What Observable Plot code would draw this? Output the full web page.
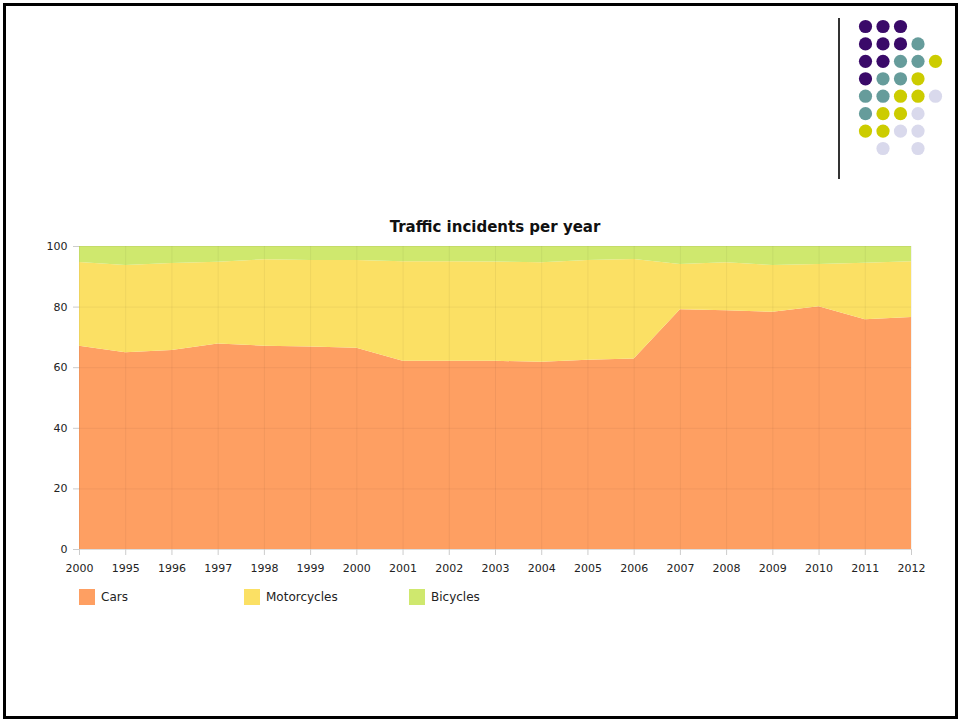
<!DOCTYPE html>
<html><head><meta charset="utf-8">
<script src="https://cdn.jsdelivr.net/npm/d3@7"></script>
<script src="https://cdn.jsdelivr.net/npm/@observablehq/plot@0.6"></script>
<style>
body{margin:0;background:#fff;font-family:"DejaVu Sans",Verdana,sans-serif;}
#page{position:relative;width:961px;height:721px;overflow:hidden;background:#fff;}
#frame{position:absolute;left:3px;top:3px;width:955px;height:716px;border:3px solid #000;box-sizing:border-box;}
#vline{position:absolute;left:838px;top:18px;width:2px;height:161px;background:#333;}
#title{position:absolute;left:0;width:990px;top:218px;text-align:center;font-weight:bold;font-size:15px;color:#111;}
#chart{position:absolute;left:0;top:236px;}
#dots{position:absolute;left:855px;top:16px;}
#legend{position:absolute;left:79px;top:589px;font-size:12px;color:#222;}
.item{position:absolute;top:0;white-space:nowrap;}
.sw{position:absolute;left:0;top:0;width:16px;height:16px;}
.lt{position:absolute;left:22px;top:1px;}
</style></head>
<body><div id="page"><div id="frame"></div><div id="vline"></div><div id="dots"></div>
<div id="title">Traffic incidents per year</div><div id="chart"></div><div id="legend"></div></div>
<script>
const labels = ["2000","1995","1996","1997","1998","1999","2000","2001","2002","2003","2004","2005","2006","2007","2008","2009","2010","2011","2012"];
const cars        = [67.1,64.9,65.7,67.8,67.1,66.8,66.4,62.1,62.1,62.1,61.8,62.5,62.9,79.1,78.8,78.3,80.1,75.8,76.6];
const motorcycles = [27.6,28.8,28.7,27.0,28.5,28.6,29.0,32.9,32.9,32.8,32.8,32.9,32.8,15.0,15.8,15.4,14.0,18.7,18.4];
const bicycles    = [5.3,6.3,5.6,5.2,4.4,4.6,4.6,5.0,5.0,5.1,5.4,4.6,4.3,5.9,5.4,6.3,5.9,5.5,5.0];
const seriesNames = ["Cars","Motorcycles","Bicycles"];
const seriesColors = ["#fe9f62","#fbe064","#cfe86e"];
const yTicks = [0,20,40,60,80,100];

// decoration dots (row strings, top to bottom; P=purple, T=teal, Y=yellow, L=lavender)
const dotRows = ["PPP..","PPPT.","PPTTY","PTTY.","TTYYL","TYYL.","YYLL.",".L.L."];
const dotKeys = ["P","T","Y","L"];
const dotColors = ["#3a0a69","#669c9b","#cccc00","#d9d9ec"];

const idx = d3.range(labels.length);
const values = [cars, motorcycles, bicycles];
const rows = idx.flatMap(i => seriesNames.map((s, k) => ({i, type: s, v: values[k][i]})));

const chart = Plot.plot({
  width: 961, height: 343,
  marginLeft: 79, marginRight: 50, marginTop: 10, marginBottom: 30,
  style: {fontFamily: "'DejaVu Sans', Verdana, sans-serif", fontSize: "11px", color: "#222", background: "transparent"},
  x: {domain: [0, labels.length - 1], axis: null},
  y: {domain: [0, 100], axis: null},
  color: {domain: seriesNames, range: seriesColors},
  marks: [
    Plot.areaY(rows, {x: "i", y: "v", fill: "type", fillOpacity: 1}),
    Plot.gridX(idx, {stroke: "#000", strokeOpacity: 0.05}),
    Plot.gridY(yTicks, {stroke: "#000", strokeOpacity: 0.05}),
    Plot.ruleY([0], {stroke: "#ddd"}),
    Plot.axisX(idx, {tickFormat: i => labels[i], tickSize: 6, tickPadding: 9, stroke: "#ccc", fill: "#222", label: null}),
    Plot.axisY(yTicks, {tickSize: 6, tickPadding: 6, stroke: "#ccc", fill: "#222", label: null})
  ]
});
document.getElementById("chart").appendChild(chart);

const dotData = [];
dotRows.forEach((r, ri) => [...r].forEach((c, ci) => { if (c !== ".") dotData.push({row: ri, col: ci, key: c}); }));
const dots = Plot.plot({
  width: 90, height: 142, margin: 10,
  style: {background: "transparent"},
  x: {domain: [0, 4], axis: null},
  y: {domain: [0, 7], axis: null, reverse: true},
  color: {domain: dotKeys, range: dotColors},
  marks: [Plot.dot(dotData, {x: "col", y: "row", fill: "key", r: 6.6})]
});
document.getElementById("dots").appendChild(dots);

const legend = document.getElementById("legend");
seriesNames.forEach((s, k) => {
  const it = document.createElement("div");
  it.className = "item";
  it.style.left = (k * 165) + "px";
  it.innerHTML = `<div class="sw" style="background:${seriesColors[k]}"></div><div class="lt">${s}</div>`;
  legend.appendChild(it);
});
</script></body></html>
